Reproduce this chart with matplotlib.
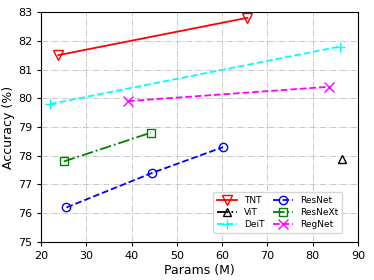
import numpy as np
import matplotlib.pyplot as plt

# data
tnt_x = [23.8, 65.6]
tnt_y = [81.5, 82.8]
vit_x = [86.4]
vit_y = [77.9]
deit_x = [22.0, 86.0]
deit_y = [79.8, 81.8]
resnet_x = [25.6, 44.5, 60.2]
resnet_y = [76.2, 77.4, 78.3]
resnext_x = [25.0, 44.2]
resnext_y = [77.8, 78.8]
regnet_x = [39.2, 83.6]
regnet_y = [79.9, 80.4]

fig = plt.figure(figsize=(3.74, 2.8), dpi=100)
ax = fig.add_axes([0.11, 0.136, 0.847, 0.821])

ax.plot(tnt_x, tnt_y, 'r-v', mfc='none', ms=7, lw=1.3, label='TNT')
ax.plot(vit_x, vit_y, 'k-.^', mfc='none', ms=6, lw=1.3, label='ViT')
ax.plot(deit_x, deit_y, '--+', color='cyan', ms=7, lw=1.3, label='DeiT')
ax.plot(resnet_x, resnet_y, 'b--o', mfc='none', ms=6, lw=1.3, label='ResNet')
ax.plot(resnext_x, resnext_y, '-.s', color='green', mfc='none', ms=6, lw=1.3, label='ResNeXt')
ax.plot(regnet_x, regnet_y, '--x', color='magenta', ms=7, lw=1.3, label='RegNet')

ax.set_xlim(20, 90)
ax.set_ylim(75, 83)
ax.set_xticks(np.arange(20, 91, 10))
ax.set_yticks(np.arange(75, 84, 1))
ax.tick_params(labelsize=8, length=3)
ax.grid(True, linestyle='-.', color='#c8c8c8', lw=0.7)
ax.set_xlabel('Params (M)', fontsize=9, labelpad=2)
ax.set_ylabel('Accuracy (%)', fontsize=9, labelpad=2)
ax.legend(loc='lower right', ncol=2, fontsize=6.5, handlelength=2.2,
          columnspacing=1.0, borderpad=0.4, labelspacing=0.35,
          bbox_to_anchor=(0.965, 0.02))

plt.savefig('out.png', dpi=100)
